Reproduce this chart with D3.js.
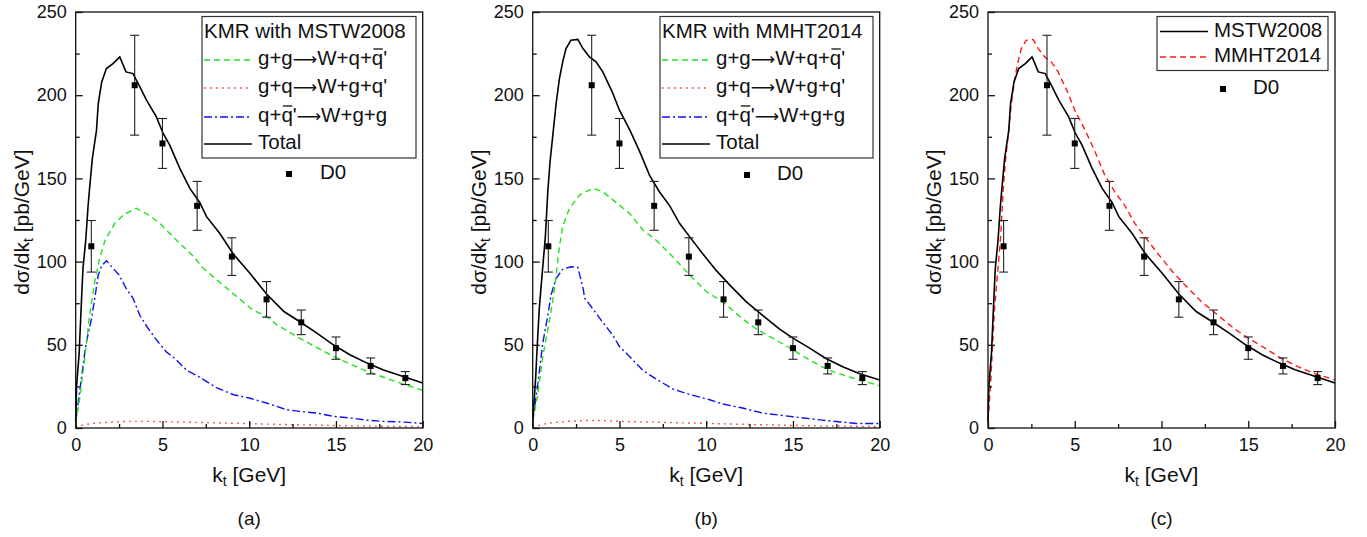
<!DOCTYPE html>
<html lang="en">
<head>
<meta charset="utf-8">
<title>W + 2 jets kt distribution, KMR</title>
<script src="https://d3js.org/d3.v7.min.js"></script>
<style>
  body { margin: 0; background: #fff; }
  svg text { font-family: 'Liberation Sans', Arial, Helvetica, sans-serif; fill: #111; }
  .tick text { font-size: 18px; }
  .axis path, .axis line { stroke: #111; stroke-width: 1.3; }
  .arrow { font-family: 'DejaVu Sans', sans-serif; }
</style>
</head>
<body>
<div id="chart"></div>
<script>
// ---- data ----
// D0 measurement
var d0Kt  = [0.9, 3.4, 5, 7, 9, 11, 13, 15, 17, 19];
var d0Val = [109.2, 206, 171, 133.5, 103, 77.3, 63.5, 48, 37.3, 30];
var d0Err = [15.5, 30, 15, 14.7, 11.3, 10.7, 7.4, 6.7, 4.8, 3.9];

// KMR with MSTW2008
var mstwTotalKt = [0, 0.05, 0.2, 0.33, 0.42, 0.58, 0.71, 0.8, 0.96, 1.2, 1.3, 1.5, 1.77, 2.15, 2.54, 2.9, 3.3, 3.7, 4.08, 4.65, 5.04, 5.42, 6.0, 6.58, 7.15, 7.54, 8.3, 9.08, 10.04, 11.0, 12.0, 12.9, 13.9, 14.85, 15.8, 16.8, 17.7, 18.7, 20];
var mstwTotal   = [4, 25, 45, 76, 96, 113, 133, 144, 162, 179, 195, 208, 216, 219, 223, 214, 213, 205, 197, 187, 177, 170, 156, 144, 135.5, 127, 117, 104.6, 93, 80.5, 70, 64, 57, 50, 44, 39, 35, 31.5, 27];
var mstwGgKt = [0, 0.23, 0.5, 0.8, 1.1, 1.38, 1.7, 2.25, 2.8, 3.5, 4.2, 4.85, 5.6, 6.8, 7.35, 8.7, 10.2, 11.0, 11.6, 12.9, 14.85, 16.8, 18.7, 20];
var mstwGg   = [3, 18, 40, 68, 88, 102, 113, 123, 128.5, 132, 128, 123, 115, 103, 96, 84, 71, 67, 62, 54, 43, 34, 27, 22.7];
var mstwGqKt = [0, 0.5, 1, 2, 3, 4, 6, 8, 10, 12, 14, 16, 18, 20];
var mstwGq   = [0.5, 2, 2.8, 3.5, 4, 4, 3.6, 3.1, 2.6, 2.1, 1.7, 1.3, 1, 0.8];
var mstwQqKt = [0, 0.33, 0.6, 0.9, 1.1, 1.3, 1.5, 1.77, 2.15, 2.5, 2.9, 3.3, 3.7, 4.1, 4.65, 5.2, 5.8, 6.4, 7.15, 8.1, 9.1, 10.0, 11, 12.15, 12.9, 13.9, 14.85, 16, 16.8, 17.7, 18.7, 20];
var mstwQq   = [4, 30, 51, 65, 78, 92, 97.5, 100.5, 96, 92, 84, 78, 67.6, 61, 53, 46, 41, 34.6, 30.5, 24.3, 20, 18, 15, 11, 10, 9, 7, 5.8, 4.7, 4, 3.7, 2.7];

// KMR with MMHT2014
var mmhtTotalKt = [0, 0.04, 0.17, 0.25, 0.38, 0.54, 0.73, 0.87, 1.0, 1.19, 1.35, 1.54, 1.73, 1.92, 2.2, 2.6, 2.9, 3.27, 3.65, 4.04, 4.6, 5.0, 5.6, 6.15, 6.73, 7.3, 7.9, 8.46, 9.04, 9.8, 10.6, 11.35, 12.3, 13.27, 14.23, 15, 15.96, 16.9, 17.9, 18.85, 20];
var mmhtTotal   = [4, 10, 30, 47, 72, 92, 115, 142, 160, 179, 195, 210, 220, 228, 233, 233.5, 228, 223, 220, 214, 201.6, 191, 179, 166.5, 152, 142, 133.5, 123, 115, 104.7, 94.4, 86, 76, 67.6, 59.4, 54, 48, 41.8, 36.7, 32.6, 28.9];
var mmhtGgKt = [0, 0.29, 0.58, 0.87, 1.15, 1.35, 1.54, 1.73, 2.1, 2.7, 3.46, 4.04, 4.8, 5.58, 6.35, 7.1, 8.1, 9.04, 10, 10.96, 12.1, 12.9, 14.0, 15, 15.96, 17.1, 18.3, 20];
var mmhtGg   = [4, 20, 43, 59, 76, 92, 109, 121, 131.5, 140, 144, 142, 135.6, 129, 119, 113, 102.6, 92, 82, 75.8, 65.5, 59.4, 53, 47, 40.8, 34.6, 30.5, 25.4];
var mmhtGqKt = [0, 0.5, 1, 2, 3, 4, 5, 7, 9, 11, 13, 15, 17, 19, 20];
var mmhtGq   = [0.5, 2, 3, 4, 4.5, 4.5, 4, 3.5, 3, 2.5, 2, 1.5, 1.2, 1, 0.9];
var mmhtQqKt = [0, 0.29, 0.58, 0.87, 1.06, 1.35, 1.73, 2.2, 2.6, 2.9, 3.0, 3.46, 4.04, 4.6, 5, 5.58, 6.35, 7.1, 8.1, 9.04, 10.2, 10.96, 12.1, 13.27, 15, 16.7, 18.65, 20];
var mmhtQq   = [4, 26, 51, 67.6, 80, 90, 95.4, 96.9, 96.5, 84, 78, 71.7, 63.5, 56, 49, 43, 34.6, 29.5, 23.3, 20.2, 17, 14.4, 12, 8.9, 6.8, 4.7, 2.7, 2.7];

var xTicksMajor = [0, 5, 10, 15, 20];
var xTicksMinor = [2.5, 7.5, 12.5, 17.5];
var yTicksMajor = [0, 50, 100, 150, 200, 250];
var yTicksMinor = [25, 75, 125, 175, 225];

// ---- styles ----
var styles = {
  gg:    { stroke: "#22e022", dash: "6,4" },
  gq:    { stroke: "#ff3030", dash: "1.6,4.4" },
  qq:    { stroke: "#1010f0", dash: "8,3,2,3" },
  total: { stroke: "#000", dash: null },
  mmhtC: { stroke: "#ff1a1a", dash: "6,4" }
};

var W = 1367, H = 537;
var plotTop = 12, plotBottom = 428, plotW = 347;
var legendFont = 20.5;

var svg = d3.select("#chart").append("svg")
  .attr("width", W).attr("height", H);

function zip(kt, v) { return kt.map(function(k, i) { return [k, v[i]]; }); }

function panel(left, letter, curves, legend) {
  var x = d3.scaleLinear().domain([0, 20]).range([left, left + plotW]);
  var y = d3.scaleLinear().domain([0, 250]).range([plotBottom, plotTop]);
  var g = svg.append("g");

  // curves
  var line = d3.line().x(function(d) { return x(d[0]); }).y(function(d) { return y(d[1]); });
  curves.forEach(function(c) {
    g.append("path")
      .datum(zip(c.kt, c.v))
      .attr("d", line)
      .attr("fill", "none")
      .attr("stroke", c.style.stroke)
      .attr("stroke-width", c.style === styles.total ? 1.6 : 1.4)
      .attr("stroke-dasharray", c.style.dash);
  });

  // D0 points
  var pts = d0Kt.map(function(k, i) { return { k: k, v: d0Val[i], e: d0Err[i] }; });
  var eb = g.append("g").attr("stroke", "#222").attr("stroke-width", 1.1);
  pts.forEach(function(p) {
    eb.append("line").attr("x1", x(p.k)).attr("x2", x(p.k)).attr("y1", y(p.v - p.e)).attr("y2", y(p.v + p.e));
    [p.v - p.e, p.v + p.e].forEach(function(vv) {
      eb.append("line").attr("x1", x(p.k) - 4.5).attr("x2", x(p.k) + 4.5).attr("y1", y(vv)).attr("y2", y(vv));
    });
  });
  g.selectAll("rect.pt").data(pts).enter().append("rect")
    .attr("class", "pt")
    .attr("x", function(d) { return x(d.k) - 3; })
    .attr("y", function(d) { return y(d.v) - 3; })
    .attr("width", 6).attr("height", 6)
    .attr("fill", "#000");

  // frame and axes
  g.append("rect").attr("x", left).attr("y", plotTop).attr("width", plotW).attr("height", plotBottom - plotTop)
    .attr("fill", "none").attr("stroke", "#111").attr("stroke-width", 1.3);

  g.append("g").attr("class", "axis").attr("transform", "translate(0," + plotBottom + ")")
    .call(d3.axisBottom(x).tickValues(xTicksMajor).tickSize(-7).tickPadding(10))
    .call(function(a) { a.select(".domain").remove(); });
  g.append("g").attr("class", "axis").attr("transform", "translate(0," + plotBottom + ")")
    .call(d3.axisBottom(x).tickValues(xTicksMinor).tickSize(-4).tickFormat(""))
    .call(function(a) { a.select(".domain").remove(); });
  g.append("g").attr("class", "axis").attr("transform", "translate(" + left + ",0)")
    .call(d3.axisLeft(y).tickValues(yTicksMajor).tickSize(-7).tickPadding(9))
    .call(function(a) { a.select(".domain").remove(); });
  g.append("g").attr("class", "axis").attr("transform", "translate(" + left + ",0)")
    .call(d3.axisLeft(y).tickValues(yTicksMinor).tickSize(-4).tickFormat(""))
    .call(function(a) { a.select(".domain").remove(); });
  g.selectAll(".tick text").attr("fill", "#111");

  // axis titles
  var xt = g.append("text").attr("x", left + plotW / 2).attr("y", 476)
    .attr("text-anchor", "middle").attr("dominant-baseline", "middle").style("font-size", "21px");
  xt.append("tspan").text("k");
  xt.append("tspan").attr("dy", 6).style("font-size", "14px").text("t");
  xt.append("tspan").attr("dy", -6).text(" [GeV]");

  var yt = g.append("text").attr("transform", "translate(" + (left - 53) + "," + ((plotTop + plotBottom) / 2 + 2) + ") rotate(-90)")
    .attr("text-anchor", "middle").attr("dominant-baseline", "middle").style("font-size", "21px");
  yt.append("tspan").text("dσ/dk");
  yt.append("tspan").attr("dy", 6).style("font-size", "14px").text("t");
  yt.append("tspan").attr("dy", -6).text(" [pb/GeV]");

  g.append("text").attr("x", left + plotW / 2).attr("y", 520)
    .attr("text-anchor", "middle").attr("dominant-baseline", "middle").style("font-size", "19px")
    .text("(" + letter + ")");

  // legend
  var lg = g.append("g");
  lg.append("rect").attr("x", legend.box[0]).attr("y", legend.box[1])
    .attr("width", legend.box[2]).attr("height", legend.box[3])
    .attr("fill", "#fff").attr("stroke", "#333").attr("stroke-width", 1.2);
  if (legend.title) {
    lg.append("text").attr("x", legend.box[0] + 2).attr("y", legend.titleY)
      .attr("dominant-baseline", "middle").style("font-size", legendFont + "px").text(legend.title);
  }
  legend.rows.forEach(function(r) {
    lg.append("line").attr("x1", legend.lineX[0]).attr("x2", legend.lineX[1])
      .attr("y1", r.y).attr("y2", r.y)
      .attr("stroke", r.style.stroke).attr("stroke-width", 1.5)
      .attr("stroke-dasharray", r.style.dash);
    var t = lg.append("text").attr("x", legend.textX).attr("y", r.y)
      .attr("dominant-baseline", "middle").style("font-size", legendFont + "px");
    var idx = 0, bars = [];
    r.parts.forEach(function(p) {
      var ts = t.append("tspan").text(p[0]);
      if (p[1] === "bar") bars.push(idx);
      if (p[1] === "arrow") ts.attr("class", "arrow").style("font-size", "17px");
      idx += p[0].length;
    });
    // overline for antiquarks, drawn by hand
    bars.forEach(function(ci) {
      var ext = t.node().getExtentOfChar(ci);
      var bx = ext.x + 1.5, bw = ext.width - 2;
      var by = r.y - 11;
      lg.append("line").attr("x1", bx).attr("x2", bx + bw).attr("y1", by).attr("y2", by)
        .attr("stroke", "#111").attr("stroke-width", 1.3);
    });
  });
  lg.append("rect").attr("x", legend.d0[0] - 3).attr("y", legend.d0[1] - 3)
    .attr("width", 6).attr("height", 6).attr("fill", "#000");
  lg.append("text").attr("x", legend.d0[2]).attr("y", legend.d0[1])
    .attr("dominant-baseline", "middle").style("font-size", legendFont + "px").text("D0");
}

var procRows = function(ys) {
  return [
    { y: ys[0], style: styles.gg, parts: [["g+g"], ["⟶", "arrow"], ["W+q+"], ["q", "bar"], ["'"]] },
    { y: ys[1], style: styles.gq, parts: [["g+q"], ["⟶", "arrow"], ["W+g+q'"]] },
    { y: ys[2], style: styles.qq, parts: [["q+"], ["q", "bar"], ["'"], ["⟶", "arrow"], ["W+g+g"]] },
    { y: ys[3], style: styles.total, parts: [["Total"]] }
  ];
};

panel(75.7, "a",
  [ { kt: mstwGqKt, v: mstwGq, style: styles.gq },
    { kt: mstwQqKt, v: mstwQq, style: styles.qq },
    { kt: mstwGgKt, v: mstwGg, style: styles.gg },
    { kt: mstwTotalKt, v: mstwTotal, style: styles.total } ],
  { box: [202, 16.5, 214, 141.5], title: "KMR with MSTW2008", titleY: 33,
    lineX: [204, 252], textX: 258, rows: procRows([60, 88, 117, 144]),
    d0: [289, 174, 320] });

panel(532.7, "b",
  [ { kt: mmhtGqKt, v: mmhtGq, style: styles.gq },
    { kt: mmhtQqKt, v: mmhtQq, style: styles.qq },
    { kt: mmhtGgKt, v: mmhtGg, style: styles.gg },
    { kt: mmhtTotalKt, v: mmhtTotal, style: styles.total } ],
  { box: [660, 16.5, 213, 141.5], title: "KMR with MMHT2014", titleY: 33,
    lineX: [662, 710], textX: 716, rows: procRows([60, 88, 117, 144]),
    d0: [747, 175, 777] });

panel(988, "c",
  [ { kt: mmhtTotalKt, v: mmhtTotal, style: styles.mmhtC },
    { kt: mstwTotalKt, v: mstwTotal, style: styles.total } ],
  { box: [1157, 16.5, 171, 54], title: null,
    lineX: [1160, 1208], textX: 1214,
    rows: [ { y: 31.5, style: styles.total, parts: [["MSTW2008"]] },
            { y: 57, style: styles.mmhtC, parts: [["MMHT2014"]] } ],
    d0: [1223, 89, 1253] });
</script>
</body>
</html>
